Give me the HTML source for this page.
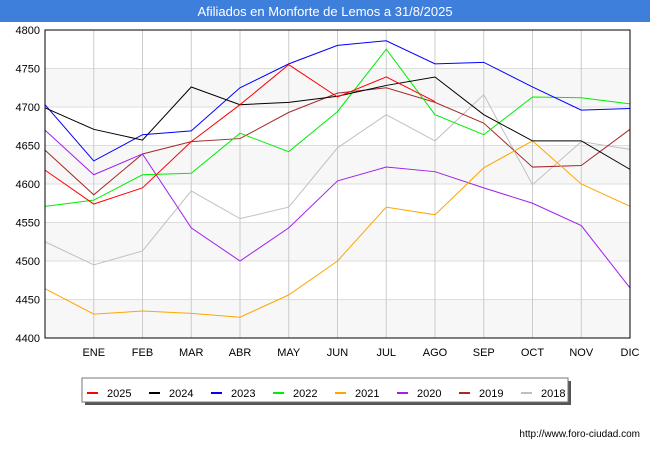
<!DOCTYPE html>
<html><head><meta charset="utf-8"><style>
body{margin:0;width:650px;height:450px;background:#fff;font-family:"Liberation Sans",sans-serif;overflow:hidden}
</style></head><body>
<svg width="650" height="450" xmlns="http://www.w3.org/2000/svg">
<rect x="0" y="0" width="650" height="22" fill="#3f7fdc"/>
<text x="325" y="16" text-anchor="middle" fill="#fff" font-size="13">Afiliados en Monforte de Lemos a 31/8/2025</text>
<g id="bands"></g><g id="grid"></g><g id="axes"></g><g id="lines"></g>
<rect x="45" y="30" width="585" height="308" fill="none" stroke="#000" stroke-width="1"/>
<rect x="85" y="381" width="486" height="24" fill="#555"/>
<rect x="82" y="378" width="486" height="24" fill="#fff" stroke="#777"/>
<g id="legend"></g>
<text x="640" y="437" text-anchor="end" font-size="10" fill="#000">http://www.foro-ciudad.com</text>
</svg>
<script>
const months=["","ENE","FEB","MAR","ABR","MAY","JUN","JUL","AGO","SEP","OCT","NOV","DIC"];
const yTicks=[4400,4450,4500,4550,4600,4650,4700,4750,4800];
const seriesNames=["2025","2024","2023","2022","2021","2020","2019","2018"];
const seriesColors=["#ff0000","#000000","#0000ff","#00ee00","#ffa500","#a020f0","#a52a2a","#c0c0c0"];
const s2025=[4618,4574,4595,4655,4703,4755,4713,4739,4707];
const s2024=[4699,4671,4657,4726,4703,4706,4714,4728,4739,4690,4656,4656,4619];
const s2023=[4703,4630,4664,4669,4725,4756,4780,4786,4756,4758,4726,4696,4698];
const s2022=[4571,4579,4612,4614,4666,4642,4694,4775,4690,4664,4713,4712,4704];
const s2021=[4464,4431,4435,4432,4427,4456,4500,4570,4560,4621,4656,4600,4571];
const s2020=[4670,4612,4639,4543,4500,4543,4604,4622,4616,4595,4575,4546,4465];
const s2019=[4644,4586,4639,4655,4659,4693,4718,4725,4706,4679,4622,4624,4671];
const s2018=[4525,4495,4513,4591,4555,4570,4647,4690,4656,4716,4599,4655,4645];
const allSeries=[s2025,s2024,s2023,s2022,s2021,s2020,s2019,s2018];
const NS="http://www.w3.org/2000/svg";
const X0=45,X1=630,Y0=338,Y1=30;
const xs=i=>X0+i*(X1-X0)/12;
const ys=v=>Y0-(v-4400)*(Y0-Y1)/400;
function mk(t,a,p){const e=document.createElementNS(NS,t);for(const k in a)e.setAttribute(k,a[k]);p.appendChild(e);return e;}
const bands=document.getElementById('bands'),grid=document.getElementById('grid'),axes=document.getElementById('axes'),lines=document.getElementById('lines'),legend=document.getElementById('legend');
for(let i=0;i<yTicks.length-1;i++){
  if(i%2===0){const r=mk('rect',{x:X0,y:ys(yTicks[i+1]),width:X1-X0,height:ys(yTicks[i])-ys(yTicks[i+1]),fill:'#f7f7f7'},bands);
  
  }
}
yTicks.forEach(v=>{
  const l=mk('line',{x1:X0,x2:X1,y1:ys(v),y2:ys(v),stroke:'#dddddd'},grid);
  
  
  const t=mk('text',{x:X0-5,y:ys(v)+4,'text-anchor':'end','font-size':'11',fill:'#000'},axes);t.textContent=v;
  
  
});
months.forEach((m,i)=>{
  if(i===0)return;
  const l=mk('line',{x1:xs(i),x2:xs(i),y1:Y1,y2:Y0,stroke:'#cccccc'},grid);
  
  
  const t=mk('text',{x:xs(i),y:356,'text-anchor':'middle','font-size':'11',fill:'#000'},axes);t.textContent=m;
  
  
});
for(let s=allSeries.length-1;s>=0;s--){
  const pts=allSeries[s].map((v,i)=>xs(i)+','+ys(v)).join(' ');
  const p=mk('polyline',{points:pts,fill:'none',stroke:seriesColors[s],'stroke-width':'1'},lines);
  
  
}
seriesNames.forEach((n,i)=>{
  const x=87+i*62;
  const l=mk('line',{x1:x,x2:x+11,y1:393,y2:393,stroke:seriesColors[i],'stroke-width':'2'},legend);
  
  
  const t=mk('text',{x:x+20,y:397,'font-size':'11',fill:'#000'},legend);t.textContent=n;
  
  
});
</script>
</body></html>
